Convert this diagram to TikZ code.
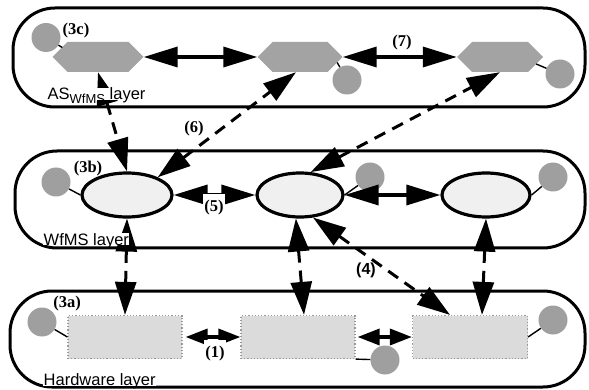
\documentclass[tikz,border=0pt]{standalone}
\usepackage{fontspec}
\setmainfont{Liberation Serif}
\setsansfont{Liberation Sans}
\usetikzlibrary{arrows.meta,calc,shapes.geometric}

\begin{document}
\begin{tikzpicture}[x=1pt,y=-1pt,
  layerbox/.style={draw, line width=3pt, rounded corners=42pt, inner sep=0pt},
  hexnode/.style={minimum width=#1, minimum height=30pt, inner sep=0pt,
    path picture={\fill[gray!72]
      (path picture bounding box.west)
      -- ([xshift=15pt]path picture bounding box.north west)
      -- ([xshift=-15pt]path picture bounding box.north east)
      -- (path picture bounding box.east)
      -- ([xshift=-15pt]path picture bounding box.south east)
      -- ([xshift=15pt]path picture bounding box.south west) -- cycle;}},
  wfnode/.style={ellipse, draw, line width=3.2pt, fill=gray!12,
    minimum width=#1, minimum height=44pt, inner sep=0pt},
  hwnode/.style={draw=gray!80, dotted, line width=1.2pt, fill=gray!28,
    minimum width=114pt, minimum height=43pt, inner sep=0pt},
  agent/.style={circle, fill=gray!75, minimum size=29pt, inner sep=0pt},
  link/.style={line width=1.4pt},
  duplex/.style={line width=3.5pt,
    {Triangle[length=34pt,width=20pt]}-{Triangle[length=34pt,width=20pt]}},
  shortduplex/.style={line width=3.5pt,
    {Triangle[length=22pt,width=16pt]}-{Triangle[length=22pt,width=16pt]}},
  dashduplex/.style={line width=3pt, dash pattern=on 12pt off 8pt,
    {Triangle[length=33pt,width=21pt]}-{Triangle[length=33pt,width=21pt]}},
  numlbl/.style={font=\fontsize{16.5}{17}\selectfont\bfseries, inner sep=1pt},
  layerlbl/.style={font=\sffamily\fontsize{16.5}{17}\selectfont, anchor=base west,
    fill=white, inner sep=0.5pt, text depth=0pt}]

\useasboundingbox (0,0) rectangle (589,390);

% layers
\node[layerbox, minimum width=572pt, minimum height=99pt] (aslayer) at (299,57.5) {};
\node[layerbox, minimum width=570pt, minimum height=97pt] (wflayer) at (300,199.5) {};
\node[layerbox, minimum width=575pt, minimum height=96pt] (hwlayer) at (297.5,339) {};

% application-server layer
\node[hexnode=91pt] (h1) at (98,57) {};
\node[hexnode=85pt] (h2) at (300,57) {};
\node[hexnode=86pt] (h3) at (500,57) {};
\node[agent] (ah1) at (46,37.5) {};
\node[agent] (ah2) at (347,80) {};
\node[agent] (ah3) at (560,74) {};

% WfMS layer
\node[wfnode=90pt] (e1) at (127,195) {};
\node[wfnode=86pt] (e2) at (300,195) {};
\node[wfnode=88pt] (e3) at (486,195) {};
\node[agent] (ae1) at (56,182) {};
\node[agent] (ae2) at (370,177) {};
\node[agent] (ae3) at (553,177) {};

% hardware layer
\node[hwnode] (r1) at (125,337) {};
\node[hwnode] (r2) at (298,337) {};
\node[hwnode, minimum width=115pt] (r3) at (470,337) {};
\node[agent] (ar1) at (42,322) {};
\node[agent] (ar2) at (385,360) {};
\node[agent] (ar3) at (553,320) {};

% agents attached to their components
\draw[link] (ah1) -- ($(h1.west)+(10,-9.5)$);
\draw[link] (ah2) -- ($(h2.east)+(-5.5,5.5)$);
\draw[link] (ah3) -- ($(h3.east)+(-7,7)$);
\draw[link] (ae1) -- (e1.west);
\draw[link] (ae2) -- (e2.east);
\draw[link] (ae3) -- (e3.east);
\draw[link] (ar1) -- (r1.west);
\draw[link] (ar2) -- (r2.south east);
\draw[link] (ar3) -- (r3.east);

% horizontal interactions
\draw[duplex] (h1.east) -- (h2.west);
\draw[duplex] (h2.east) -- (h3.west);
\draw[duplex] (e1.east) -- (e2.west);
\draw[duplex] (e2.east) -- (e3.west);
\draw[shortduplex, shorten <=3pt] (r1.east) -- (r2.west);
\draw[shortduplex, shorten <=2pt] (r2.east) -- (r3.west);

% vertical interactions
\draw[dashduplex] (h1.south) -- (e1.north);
\draw[dashduplex] (e1.30) -- ($(h2.south)+(-4,0)$);
\draw[dashduplex] (e2.65) -- (h3.south);
\draw[dashduplex] (e1.south) -- (r1.north);
\draw[dashduplex] (e2.-100) -- ($(r2.north)+(6,0)$);
\draw[dashduplex] (e2.-60) -- ($(r3.north)+(-20,0)$);
\draw[dashduplex] (e3.south) -- ($(r3.north)+(12,0)$);

% labels
\node[numlbl] (n3c) at (76,31) {(3c)};
\node[numlbl] (n7) at (402,43) {(7)};
\node[numlbl, fill=white] (n6) at (194,129) {(6)};
\node[numlbl] (n3b) at (88,169) {(3b)};
\node[numlbl, fill=white, anchor=base, text height=17pt] (n5) at (214,212) {(5)};
\node[numlbl, font=\sffamily\fontsize{16}{17}\selectfont\bfseries] (n4) at (366,270) {(4)};
\node[numlbl] (n3a) at (67,304) {(3a)};
\node[numlbl, fill=white, anchor=base, text height=16pt] (n1) at (215,357) {(1)};

\node[layerlbl] (tas) at (47,100) {AS\raisebox{-4pt}{\fontsize{13}{13}\selectfont WfMS} layer};
\node[layerlbl] (twf) at (43,245) {WfMS layer};
\node[layerlbl] (thw) at (43,385) {Hardware layer};
\end{tikzpicture}
\end{document}
